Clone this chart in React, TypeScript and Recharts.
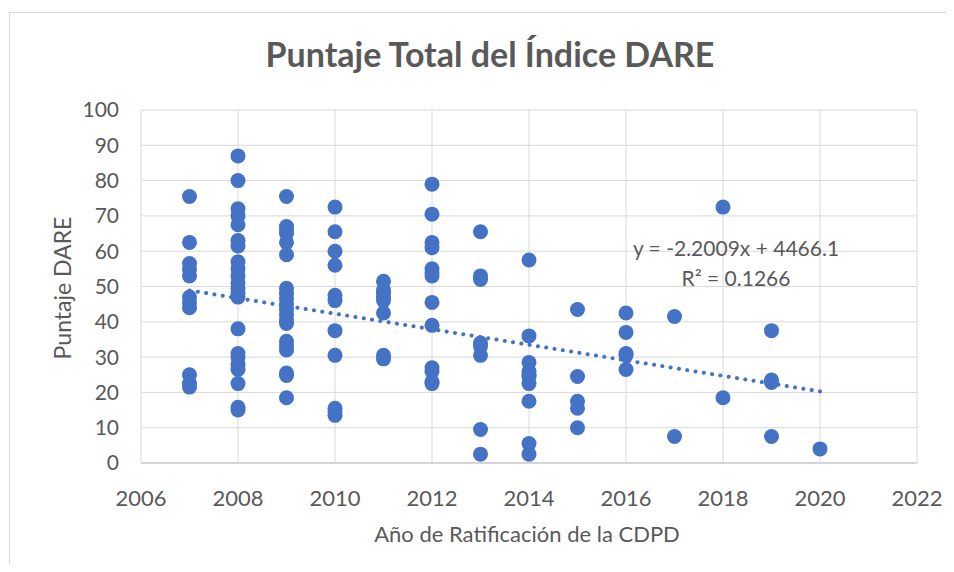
import React from 'react';
import { ScatterChart, Scatter, XAxis, YAxis, CartesianGrid } from 'recharts';

// Ratification years (x) and DARE scores (y)
const years = [2007, 2008, 2009, 2010, 2011, 2012, 2013, 2014, 2015, 2016, 2017, 2018, 2019, 2020];
const scores2007 = [75.5, 62.5, 56.5, 54.8, 53, 47, 45.5, 44, 25, 22.5, 21.5];
const scores2008 = [87, 80, 72, 70, 67.5, 63, 61.5, 57, 55, 53, 51, 49.5, 48, 47, 38, 31, 30, 28, 26.5, 22.5, 15.8, 15];
const scores2009 = [75.5, 67, 66, 65, 62.5, 59, 49.5, 48, 46.5, 45, 43.5, 42, 40.5, 39.5, 34.5, 33, 32, 25.5, 24.8, 18.5];
const scores2010 = [72.5, 65.5, 60, 56, 47.5, 46, 37.5, 30.5, 15.5, 14.5, 13.5];
const scores2011 = [51.5, 49, 48, 47, 46, 42.5, 30.5, 29.5];
const scores2012 = [79, 70.5, 62.5, 61, 55, 54, 53, 45.5, 39, 27, 26, 23, 22.5];
const scores2013 = [65.5, 53, 52, 34, 33, 30.5, 9.5, 2.5];
const scores2014 = [57.5, 36, 28.5, 26, 25, 24.5, 22.5, 17.5, 5.5, 2.5];
const scores2015 = [43.5, 24.5, 17.5, 15.5, 10];
const scores2016 = [42.5, 37, 31, 30.5, 26.5];
const scores2017 = [41.5, 7.5];
const scores2018 = [72.5, 18.5];
const scores2019 = [37.5, 23.5, 22.8, 7.5];
const scores2020 = [4];

const scoresByYear = [
  scores2007, scores2008, scores2009, scores2010, scores2011, scores2012, scores2013,
  scores2014, scores2015, scores2016, scores2017, scores2018, scores2019, scores2020,
];

// Linear trendline as printed on the chart
const trendSlope = -2.2009;
const trendIntercept = 4466.1;
const trendYears = [2007, 2020];

const xTicks = [2006, 2008, 2010, 2012, 2014, 2016, 2018, 2020, 2022];
const yTicks = [0, 10, 20, 30, 40, 50, 60, 70, 80, 90, 100];

const titleText = 'Puntaje Total del Índice DARE';
const xTitle = 'Año de Ratificación de la CDPD';
const yTitle = 'Puntaje DARE';
const eqLine1 = 'y = -2.2009x + 4466.1';
const eqLine2 = 'R² = 0.1266';

const points = years.flatMap((yr, i) => scoresByYear[i].map((s) => ({ x: yr, y: s })));
const trendData = trendYears.map((yr) => ({ x: yr, y: trendSlope * yr + trendIntercept }));

const FONT = 'Lato, "Open Sans", sans-serif';
const TXT = '#595959';
const BLUE = '#4472C4';

const Dot = (props: any) => {
  if (props.cx == null || props.cy == null) return <g />;
  return <circle cx={props.cx} cy={props.cy} r={7.5} fill={BLUE} />;
};

export default function App() {
  return (
    <div style={{ position: 'relative', width: 942, height: 556, overflow: 'hidden', fontFamily: FONT, background: '#fff' }}>
      <div
        style={{
          position: 'absolute', left: 1, top: 4, width: 960, height: 600,
          borderLeft: '1px solid #d9d9d9', borderTop: '1px solid #d9d9d9',
        }}
      />
      <ScatterChart width={938} height={556} margin={{ top: 102, right: 29, bottom: 21, left: 53 }}>
        <CartesianGrid stroke="#d9d9d9" strokeWidth={1} />
        <XAxis
          type="number"
          dataKey="x"
          domain={[2006, 2022]}
          ticks={xTicks}
          allowDataOverflow
          tickLine={false}
          tickSize={0}
          tickMargin={27}
          height={80}
          axisLine={{ stroke: '#bfbfbf', strokeWidth: 1 }}
          tick={{ fill: TXT, fontSize: 22, fontFamily: FONT }}
        />
        <YAxis
          type="number"
          dataKey="y"
          domain={[0, 100]}
          ticks={yTicks}
          allowDataOverflow
          tickLine={false}
          tickSize={0}
          tickMargin={22}
          width={80}
          axisLine={false}
          tick={{ fill: TXT, fontSize: 21, fontFamily: FONT }}
        />
        <Scatter data={points} shape={Dot} isAnimationActive={false} />
        <Scatter
          data={trendData}
          shape={() => <g />}
          line={{ stroke: BLUE, strokeWidth: 4, strokeDasharray: '0.1 8.3', strokeLinecap: 'round' }}
          isAnimationActive={false}
        />
      </ScatterChart>
      <div style={{ position: 'absolute', left: 482, top: 46, transform: 'translate(-50%, -50%)', whiteSpace: 'nowrap', fontSize: 34, fontWeight: 700, color: TXT, lineHeight: 1 }}>
        {titleText}
      </div>
      <div style={{ position: 'absolute', left: 519, top: 526, transform: 'translate(-50%, -50%)', whiteSpace: 'nowrap', fontSize: 22, color: TXT, lineHeight: 1 }}>
        {xTitle}
      </div>
      <div style={{ position: 'absolute', left: 54, top: 280, transform: 'translate(-50%, -50%) rotate(-90deg)', whiteSpace: 'nowrap', fontSize: 23, color: TXT, lineHeight: 1 }}>
        {yTitle}
      </div>
      <div style={{ position: 'absolute', left: 728, top: 239, transform: 'translate(-50%, -50%)', whiteSpace: 'nowrap', fontSize: 21, color: TXT, lineHeight: 1 }}>
        {eqLine1}
      </div>
      <div style={{ position: 'absolute', left: 728, top: 269, transform: 'translate(-50%, -50%)', whiteSpace: 'nowrap', fontSize: 21, color: TXT, lineHeight: 1 }}>
        {eqLine2}
      </div>
    </div>
  );
}
